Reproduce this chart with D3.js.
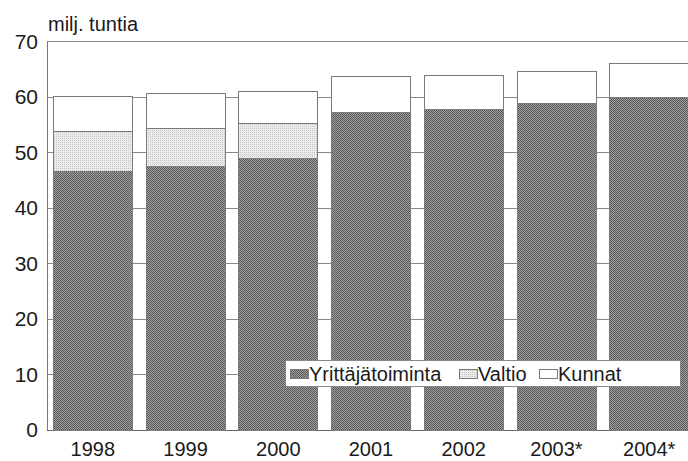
<!DOCTYPE html>
<html><head><meta charset="utf-8">
<script src="https://cdn.jsdelivr.net/npm/d3@7"></script>
<style>html,body{margin:0;padding:0;background:#fff;overflow:hidden}</style>
</head><body>
<script>
const years = ["1998","1999","2000","2001","2002","2003*","2004*"];
const yrittajatoiminta = [46.6, 47.4, 49.0, 57.2, 57.7, 58.8, 60.0];
const valtio = [7.2, 7.0, 6.3, 0, 0, 0, 0];
const kunnat = [6.2, 6.2, 5.7, 6.5, 6.2, 5.8, 6.0];
const yTicks = [0,10,20,30,40,50,60,70];
const seriesNames = ["Yrittäjätoiminta","Valtio","Kunnat"];

const W = 688, H = 461;
const font = "'Liberation Sans', Arial, Helvetica, sans-serif";
const svg = d3.select("body").append("svg").attr("width", W).attr("height", H);
const defs = svg.append("defs");
// dark checker
const p1 = defs.append("pattern").attr("id","dark").attr("width",2).attr("height",2).attr("patternUnits","userSpaceOnUse");
p1.append("rect").attr("width",2).attr("height",2).attr("fill","#a0a0a0");
p1.append("rect").attr("width",1).attr("height",1).attr("fill","#585858");
p1.append("rect").attr("x",1).attr("y",1).attr("width",1).attr("height",1).attr("fill","#585858");
// light dots
const p2 = defs.append("pattern").attr("id","light").attr("width",2).attr("height",2).attr("patternUnits","userSpaceOnUse");
p2.append("rect").attr("width",2).attr("height",2).attr("fill","#ececec");
p2.append("rect").attr("width",1).attr("height",1).attr("fill","#c4c4c4");

const fills = ["url(#dark)","url(#light)","#ffffff"];

const x = d3.scaleBand().domain(years).range([47, 695]).paddingInner(0.142).paddingOuter(0.065);
const y = d3.scaleLinear().domain([0,70]).range([429.5, 41]);

// gridlines
svg.append("g").selectAll("line").data(yTicks).join("line")
  .attr("x1",47).attr("x2",W).attr("y1",d=>Math.round(y(d))+0.5).attr("y2",d=>Math.round(y(d))+0.5)
  .attr("stroke", d=> d===0 ? "#666" : "#888").attr("stroke-width",1);
// left axis line
svg.append("line").attr("x1",47.5).attr("x2",47.5).attr("y1",y(70)).attr("y2",y(0)+0.5).attr("stroke","#777");

const data = years.map((yr,i)=>({year:yr, vals:[yrittajatoiminta[i], valtio[i], kunnat[i]]}));
const stack = d3.stack().keys([0,1,2]).value((d,k)=>d.vals[k]);
const series = stack(data);

series.forEach((s,k)=>{
  svg.append("g").selectAll("rect").data(s.filter(d=>d[1]-d[0]>0)).join("rect")
    .attr("x", d=>Math.round(x(d.data.year))+0.5)
    .attr("width", Math.floor(x.bandwidth()))
    .attr("y", d=>Math.round(y(d[1]))+0.5)
    .attr("height", d=>Math.round(y(d[0]))-Math.round(y(d[1])))
    .attr("fill", fills[k]).attr("stroke","#7a7a7a").attr("stroke-width",1);
});

// y tick labels
svg.append("g").selectAll("text").data(yTicks).join("text")
  .attr("x",38).attr("y",d=>y(d)+7.5).attr("text-anchor","end")
  .attr("font-family",font).attr("font-size",21).attr("fill","#1a1a1a").text(d=>d);

// x labels
svg.append("g").selectAll("text").data(years).join("text")
  .attr("x",d=>x(d)+x.bandwidth()/2).attr("y",456).attr("text-anchor","middle")
  .attr("font-family",font).attr("font-size",20).attr("fill","#1a1a1a").text(d=>d);

// title
svg.append("text").attr("x",48).attr("y",31).attr("font-family",font).attr("font-size",20)
  .attr("fill","#1a1a1a").text("milj. tuntia");

// legend
const lg = svg.append("g");
lg.append("rect").attr("x",285.5).attr("y",360.5).attr("width",395).attr("height",26)
  .attr("fill","#fff").attr("stroke","#888");
const legX = [290, 459, 539];
seriesNames.forEach((n,k)=>{
  lg.append("rect").attr("x",legX[k]+0.5).attr("y",369.5).attr("width",18).attr("height",9)
    .attr("fill",fills[k]).attr("stroke","#7a7a7a");
  lg.append("text").attr("x",legX[k]+19).attr("y",381).attr("font-family",font).attr("font-size",20)
    .attr("fill","#1a1a1a").text(n);
});
</script>
</body></html>
